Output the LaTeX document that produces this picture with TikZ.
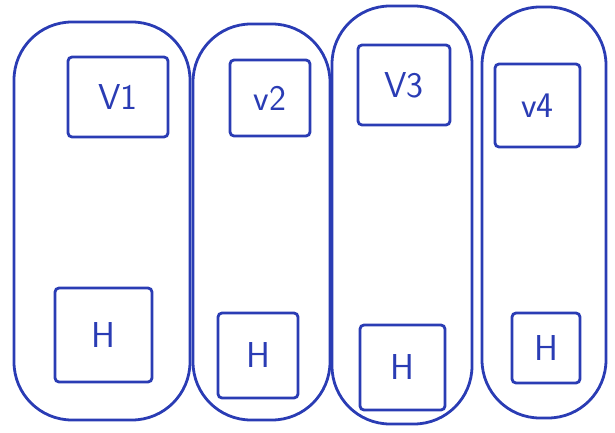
\documentclass[tikz,border=0pt]{standalone}
\usepackage{tikz}
\usetikzlibrary{positioning}
\usepackage{xcolor}
\definecolor{ink}{HTML}{2A3CB4}

\begin{document}
\begin{tikzpicture}[
          x=1pt, y=-1pt,
          capsule/.style={rectangle, draw=ink, line width=2.8pt,
                          rounded corners=58pt, inner sep=0pt},
          cell/.style={rectangle, draw=ink, line width=2.8pt,
                       rounded corners=4pt, inner sep=0pt, text=ink,
                       font=\sffamily\fontsize{36}{36}\selectfont},
        ]
        \useasboundingbox (0,0) rectangle (615,433);
        \node[capsule, minimum width=176pt, minimum height=398pt] (col1) at (102,221) {};
        \node[capsule, minimum width=137pt, minimum height=396pt] (col2) at (261.5,222) {};
        \node[capsule, minimum width=140pt, minimum height=418pt] (col3) at (402,215) {};
        \node[capsule, minimum width=124pt, minimum height=411pt] (col4) at (544,212.5) {};
        \node[cell, minimum width=100pt, minimum height=80pt] (v1) at (118,97) {V1};
        \node[cell, minimum width=80pt, minimum height=76pt] (v2) at (270,98) {v2};
        \node[cell, minimum width=92pt, minimum height=80pt] (v3) at (404,85) {V3};
        \node[cell, minimum width=85pt, minimum height=83pt] (v4) at (537.5,105.5) {v4};
        \node[cell, minimum width=97pt, minimum height=94pt] (h1) at (103.5,335) {H};
        \node[cell, minimum width=80pt, minimum height=85pt] (h2) at (258,355.5) {H};
        \node[cell, minimum width=85pt, minimum height=85pt] (h3) at (402.5,367.5) {H};
        \node[cell, minimum width=68pt, minimum height=70pt] (h4) at (546,348) {H};
      \end{tikzpicture}
\end{document}
